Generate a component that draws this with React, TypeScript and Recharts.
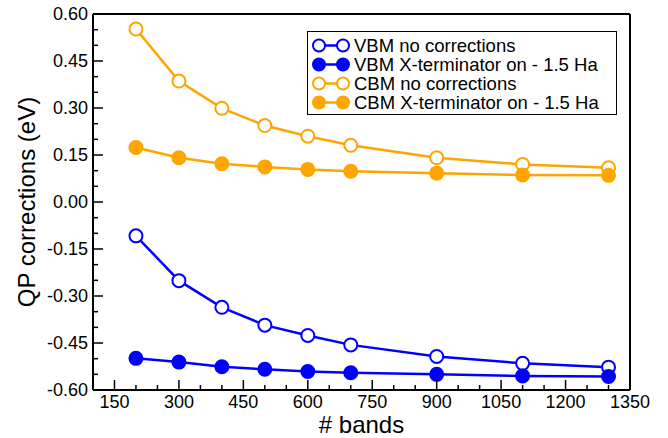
import { LineChart, Line, XAxis, YAxis, Legend } from "recharts";

const bands = [200, 300, 400, 500, 600, 700, 900, 1100, 1300];
const vbmNoCorr = [-0.108, -0.251, -0.336, -0.393, -0.426, -0.456, -0.493, -0.515, -0.527];
const vbmXterm = [-0.499, -0.511, -0.526, -0.534, -0.541, -0.545, -0.55, -0.555, -0.557];
const cbmNoCorr = [0.552, 0.386, 0.299, 0.244, 0.21, 0.181, 0.141, 0.12, 0.109];
const cbmXterm = [0.174, 0.141, 0.122, 0.112, 0.104, 0.098, 0.092, 0.086, 0.085];

const xTicks = [
  150, 200, 250, 300, 350, 400, 450, 500, 550, 600, 650, 700, 750, 800, 850, 900,
  950, 1000, 1050, 1100, 1150, 1200, 1250, 1300, 1350,
];
const yTicks = [
  -0.6, -0.55, -0.5, -0.45, -0.4, -0.35, -0.3, -0.25, -0.2, -0.15, -0.1, -0.05, 0,
  0.05, 0.1, 0.15, 0.2, 0.25, 0.3, 0.35, 0.4, 0.45, 0.5, 0.55, 0.6,
];

const series = [
  { key: "vbmNoCorr", name: "VBM no corrections", color: "#0000ff", filled: false },
  { key: "vbmXterm", name: "VBM X-terminator on - 1.5 Ha", color: "#0000ff", filled: true },
  { key: "cbmNoCorr", name: "CBM no corrections", color: "#ffa500", filled: false },
  { key: "cbmXterm", name: "CBM X-terminator on - 1.5 Ha", color: "#ffa500", filled: true },
];

const data = bands.map((b, i) => ({
  bands: b,
  vbmNoCorr: vbmNoCorr[i],
  vbmXterm: vbmXterm[i],
  cbmNoCorr: cbmNoCorr[i],
  cbmXterm: cbmXterm[i],
}));

const FONT = "'Liberation Sans', Arial, Helvetica, sans-serif";
const MAJOR = 10;
const MINOR = 5;

const isMajorX = (v: number) => v % 150 === 0;
const isMajorY = (v: number) => Math.abs(Math.round(v * 100)) % 15 === 0;

// axes are 1px thick boxes; ticks are drawn inward by hand
const BottomTick = (props: any) => {
  const { x, y, payload } = props;
  const major = isMajorX(payload.value);
  return (
    <g>
      <line x1={x} y1={y} x2={x} y2={y - (major ? MAJOR : MINOR)} stroke="#000" strokeWidth={1.5} />
      {major && (
        <text x={x} y={y + 18} textAnchor="middle" fontSize={18} fontFamily={FONT} fill="#000">
          {payload.value}
        </text>
      )}
    </g>
  );
};

const TopTick = (props: any) => {
  const { x, y, payload } = props;
  const major = isMajorX(payload.value);
  return <line x1={x} y1={y} x2={x} y2={y + (major ? MAJOR : MINOR)} stroke="#000" strokeWidth={1.5} />;
};

const LeftTick = (props: any) => {
  const { x, y, payload } = props;
  const major = isMajorY(payload.value);
  return (
    <g>
      <line x1={x} y1={y} x2={x + (major ? MAJOR : MINOR)} y2={y} stroke="#000" strokeWidth={1.5} />
      {major && (
        <text x={x - 5} y={y} dy="0.36em" textAnchor="end" fontSize={18} fontFamily={FONT} fill="#000">
          {payload.value.toFixed(2)}
        </text>
      )}
    </g>
  );
};

const RightTick = (props: any) => {
  const { x, y, payload } = props;
  const major = isMajorY(payload.value);
  return <line x1={x} y1={y} x2={x - (major ? MAJOR : MINOR)} y2={y} stroke="#000" strokeWidth={1.5} />;
};

const LegendBox = () => (
  <div
    style={{
      boxSizing: "border-box",
      width: 310,
      height: 84,
      border: "1.5px solid #000",
      background: "#fff",
      padding: "4px 0 0 4px",
      fontFamily: FONT,
      fontSize: 18.5,
      color: "#000",
    }}
  >
    {series.map((s) => (
      <div key={s.key} style={{ display: "flex", alignItems: "center", height: 19, lineHeight: "19px" }}>
        <svg width={42} height={19}>
          <line x1={7} y1={9.5} x2={31} y2={9.5} stroke={s.color} strokeWidth={2.5} />
          <circle cx={7} cy={9.5} r={6} stroke={s.color} strokeWidth={2} fill={s.filled ? s.color : "#fff"} />
          <circle cx={31} cy={9.5} r={6} stroke={s.color} strokeWidth={2} fill={s.filled ? s.color : "#fff"} />
        </svg>
        <span style={{ whiteSpace: "nowrap" }}>{s.name}</span>
      </div>
    ))}
  </div>
);

export default function App() {
  return (
    <div style={{ position: "absolute", left: 0, top: 0, background: "#fff" }}>
      <LineChart width={668} height={438} data={data} margin={{ top: 13, right: 37, bottom: 47, left: 92 }}>
        <XAxis
          dataKey="bands"
          type="number"
          domain={[100, 1350]}
          ticks={xTicks}
          interval={0}
          height={1}
          tickSize={0}
          tickMargin={0}
          tickLine={false}
          axisLine={{ stroke: "#000", strokeWidth: 2 }}
          tick={BottomTick}
          label={{ value: "# bands", position: "bottom", offset: 25, fontSize: 24, fill: "#000", fontFamily: FONT }}
        />
        <XAxis
          xAxisId="top"
          orientation="top"
          type="number"
          domain={[100, 1350]}
          ticks={xTicks}
          interval={0}
          height={1}
          tickSize={0}
          tickMargin={0}
          tickLine={false}
          axisLine={{ stroke: "#000", strokeWidth: 2 }}
          tick={TopTick}
        />
        <YAxis
          type="number"
          domain={[-0.6, 0.6]}
          ticks={yTicks}
          interval={0}
          width={1}
          tickSize={0}
          tickMargin={0}
          tickLine={false}
          axisLine={{ stroke: "#000", strokeWidth: 2 }}
          tick={LeftTick}
          label={{
            value: "QP corrections (eV)",
            angle: -90,
            position: "left",
            offset: 66,
            fontSize: 24,
            fill: "#000",
            fontFamily: FONT,
            style: { textAnchor: "middle" },
          }}
        />
        <YAxis
          yAxisId="right"
          orientation="right"
          type="number"
          domain={[-0.6, 0.6]}
          ticks={yTicks}
          interval={0}
          width={1}
          tickSize={0}
          tickMargin={0}
          tickLine={false}
          axisLine={{ stroke: "#000", strokeWidth: 2 }}
          tick={RightTick}
        />
        <Legend
          layout="horizontal"
          verticalAlign="middle"
          align="center"
          wrapperStyle={{ left: 307, top: 31, width: 310, height: 84 }}
          content={LegendBox}
        />
        {series.map((s) => (
          <Line
            key={s.key}
            dataKey={s.key}
            name={s.name}
            type="linear"
            stroke={s.color}
            strokeWidth={2.5}
            dot={{ r: 6.5, stroke: s.color, strokeWidth: 2, fill: s.filled ? s.color : "#fff" }}
            activeDot={false}
            isAnimationActive={false}
          />
        ))}
      </LineChart>
    </div>
  );
}
